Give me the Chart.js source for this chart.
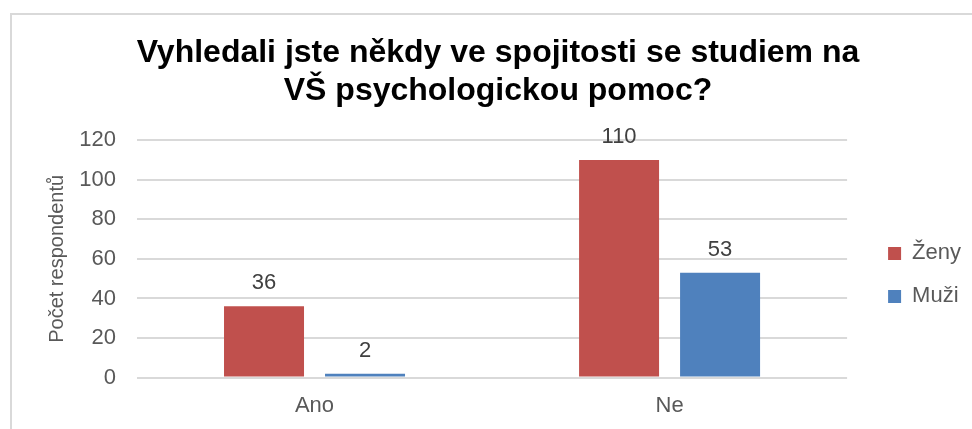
<!DOCTYPE html>
<html>
<head>
<meta charset="utf-8">
<script src="https://cdn.jsdelivr.net/npm/chart.js@4"></script>
<style>
  html, body { margin: 0; background: #fff; overflow: hidden; }
  #frame { position: absolute; left: 10px; top: 13px; width: 990px; height: 440px; border: 2px solid #d9d9d9; }
  #wrap { position: absolute; left: 10px; top: 0; width: 976px; height: 429px; }
</style>
</head>
<body>
<div id="frame"></div>
<div id="wrap"><canvas id="myBarChart"></canvas></div>
<script>
// data
const categories = ['Ano', 'Ne']
const zenyValues = [36, 110]
const muziValues = [2, 53]
const seriesNames = ['Ženy', 'Muži']
const yTicks = [0, 20, 40, 60, 80, 100, 120]

const colorConfig = ['#C0504D', '#4F81BD']
const fontFamily = '"Liberation Sans", Arial, sans-serif'

// value labels above bars
const barLabels = {
    id: 'barLabels',
    afterDatasetsDraw(chart) {
        const ctx = chart.ctx
        ctx.save()
        ctx.font = '22px ' + fontFamily
        ctx.fillStyle = '#404040'
        ctx.textAlign = 'center'
        ctx.textBaseline = 'alphabetic'
        chart.data.datasets.forEach((ds, i) => {
            chart.getDatasetMeta(i).data.forEach((bar, j) => {
                ctx.fillText(ds.data[j], bar.x, bar.y - 17)
            })
        })
        ctx.restore()
    }
}

const ctxBar = document.getElementById('myBarChart').getContext('2d')
const myBarChart = new Chart(ctxBar, {
    type: 'bar',
    data: {
        labels: categories,
        datasets: [{
            label: seriesNames[0],
            data: zenyValues,
            backgroundColor: colorConfig[0],
            categoryPercentage: 0.569,
            barPercentage: 0.792
        }, {
            label: seriesNames[1],
            data: muziValues,
            backgroundColor: colorConfig[1],
            categoryPercentage: 0.569,
            barPercentage: 0.792
        }]
    },
    options: {
        responsive: true,
        maintainAspectRatio: false,
        animation: false,
        layout: { padding: { left: 15, right: 15, top: 34, bottom: -5 } },
        plugins: {
            title: {
                display: true,
                text: ['Vyhledali jste někdy ve spojitosti se studiem na', 'VŠ psychologickou pomoc?'],
                color: '#000',
                font: { family: fontFamily, size: 32, weight: 'bold', lineHeight: 1.19 },
                padding: { top: 0, bottom: 30 }
            },
            legend: {
                position: 'right',
                fullSize: false,
                title: { display: true, text: ' ', font: { size: 10 }, padding: { top: 10, bottom: 10 } },
                labels: {
                    boxWidth: 13,
                    boxHeight: 13,
                    padding: 21,
                    color: '#595959',
                    font: { family: fontFamily, size: 22 }
                }
            },
            tooltip: { enabled: false }
        },
        scales: {
            x: {
                grid: { display: false, drawTicks: false },
                border: { display: false },
                ticks: {
                    color: '#595959',
                    padding: 15,
                    font: { family: fontFamily, size: 22 }
                }
            },
            y: {
                min: yTicks[0],
                max: yTicks[yTicks.length - 1],
                afterFit(scale) { scale.width = 112 },
                ticks: {
                    stepSize: yTicks[1] - yTicks[0],
                    color: '#595959',
                    padding: 21,
                    font: { family: fontFamily, size: 22 }
                },
                grid: { color: '#d9d9d9', lineWidth: 2, drawTicks: false },
                border: { display: false },
                title: {
                    display: true,
                    text: 'Počet respondentů',
                    color: '#595959',
                    font: { family: fontFamily, size: 20 },
                    padding: { top: 20, bottom: 0 }
                }
            },
            // empty axis, only keeps a gap between plot and legend
            yGap: {
                position: 'right',
                afterFit(scale) { scale.width = 20 },
                grid: { display: false },
                border: { display: false },
                ticks: { display: false }
            }
        }
    },
    plugins: [barLabels]
})
</script>
</body>
</html>
